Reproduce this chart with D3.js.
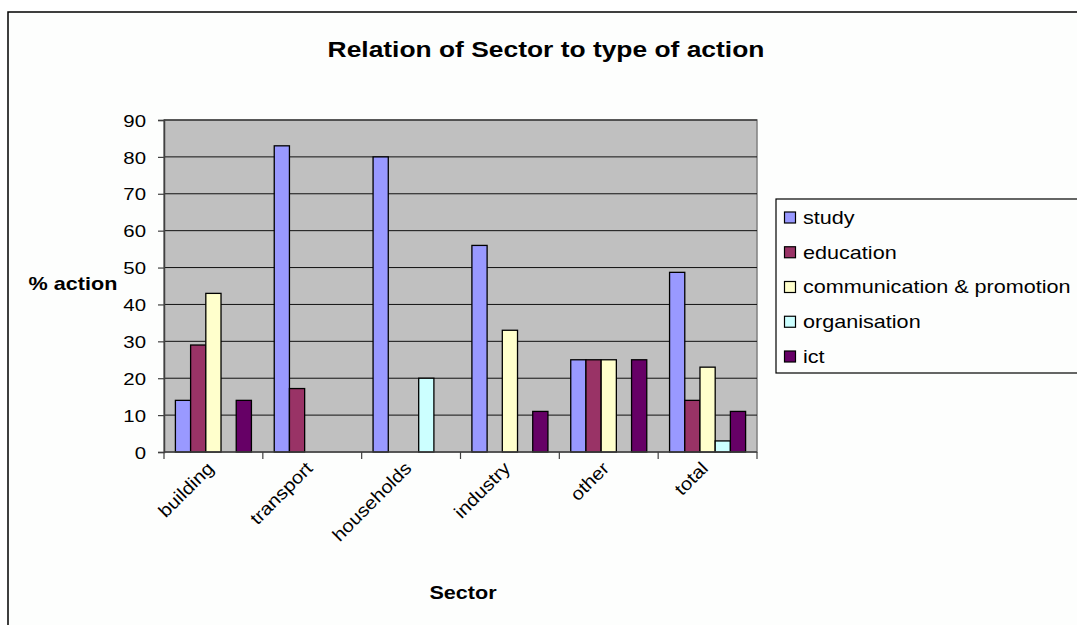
<!DOCTYPE html>
<html>
<head>
<meta charset="utf-8">
<script src="https://cdn.jsdelivr.net/npm/d3@7"></script>
<style>
  html, body { margin: 0; padding: 0; background: #ffffff; }
  svg { display: block; font-family: "Liberation Sans", Arial, sans-serif; }
</style>
</head>
<body>
<svg id="chart" width="1077" height="625"></svg>
<script>
// ---- data ----
const categories = ["building", "transport", "households", "industry", "other", "total"];
const seriesNames = ["study", "education", "communication & promotion", "organisation", "ict"];
const study = [14, 83, 80, 56, 25, 48.7];
const education = [29, 17.2, 0, 0, 25, 14];
const communication = [43, 0, 0, 33, 25, 23];
const organisation = [0, 0, 20, 0, 0, 3];
const ict = [14, 0, 0, 11, 25, 11];
const yTicks = [0, 10, 20, 30, 40, 50, 60, 70, 80, 90];
const colors = ["#9999ff", "#993366", "#ffffcc", "#ccffff", "#660066"];
const title = "Relation of Sector to type of action";
const yTitle = "% action";
const xTitle = "Sector";

const seriesValues = [study, education, communication, organisation, ict];

// ---- layout ----
const SX = 1.2; // horizontal text stretch of the original
const plot = { left: 164, right: 757, top: 120, bottom: 452 };
const svg = d3.select("#chart");

// outer chart border (only top & left visible)
svg.append("rect")
  .attr("x", 8).attr("y", 12)
  .attr("width", 1200).attr("height", 800)
  .attr("fill", "#fdfefd").attr("stroke", "#000").attr("stroke-width", 1.5);

const x = d3.scaleBand().domain(categories).range([plot.left, plot.right]).padding(0);
const xs = d3.scaleBand().domain(seriesNames).range([0, x.bandwidth()]).paddingInner(0).paddingOuter(0.75);
const y = d3.scaleLinear().domain([0, 90]).range([plot.bottom, plot.top]);

// plot background
svg.append("rect")
  .attr("x", plot.left).attr("y", plot.top)
  .attr("width", plot.right - plot.left).attr("height", plot.bottom - plot.top)
  .attr("fill", "#c0c0c0").attr("stroke", "#808080").attr("stroke-width", 1.5);

// gridlines
svg.append("g").selectAll("line").data(yTicks.filter(d => d > 0)).join("line")
  .attr("x1", plot.left).attr("x2", plot.right)
  .attr("y1", d => y(d)).attr("y2", d => y(d))
  .attr("stroke", "#111").attr("stroke-width", 1);

// bars
const barData = [];
seriesValues.forEach((vals, si) => {
  vals.forEach((v, ci) => {
    if (v > 0) barData.push({ cat: categories[ci], s: seriesNames[si], v: v, color: colors[si] });
  });
});
svg.append("g").selectAll("rect").data(barData).join("rect")
  .attr("x", d => x(d.cat) + xs(d.s))
  .attr("y", d => y(d.v))
  .attr("width", xs.bandwidth())
  .attr("height", d => y(0) - y(d.v))
  .attr("fill", d => d.color)
  .attr("stroke", "#000").attr("stroke-width", 1.3);

// y axis
const yAxis = svg.append("g")
  .attr("transform", `translate(${plot.left},0)`)
  .call(d3.axisLeft(y).tickValues(yTicks).tickSize(6).tickFormat(d3.format("d")));
yAxis.select(".domain").attr("stroke", "#404040").attr("stroke-width", 1.5);
yAxis.selectAll(".tick line").attr("stroke", "#404040").attr("stroke-width", 1.2);
yAxis.selectAll(".tick text").each(function () {
  const t = d3.select(this);
  t.attr("x", null).attr("dy", "0.36em")
   .attr("transform", `translate(-18,0) scale(${SX},1)`)
   .attr("font-size", 17).attr("fill", "#000")
   .attr("font-family", "Liberation Sans, Arial, sans-serif")
   .attr("text-anchor", "end");
});

// x axis
const xAxisG = svg.append("g").attr("transform", `translate(0,${plot.bottom})`);
xAxisG.append("line").attr("x1", plot.left).attr("x2", plot.right).attr("y1", 0).attr("y2", 0)
  .attr("stroke", "#404040").attr("stroke-width", 1.5);
const tickPositions = categories.map(c => x(c)).concat([x(categories[categories.length - 1]) + x.bandwidth()]);
xAxisG.selectAll("line.tk").data(tickPositions).join("line").attr("class", "tk")
  .attr("x1", d => d).attr("x2", d => d).attr("y1", 0).attr("y2", 7)
  .attr("stroke", "#404040").attr("stroke-width", 1.2);
xAxisG.selectAll("text.cl").data(categories).join("text").attr("class", "cl")
  .attr("transform", d => `translate(${x(d) + x.bandwidth() / 2 - 3},${13}) rotate(-45) scale(1.12,1)`)
  .attr("text-anchor", "end").attr("dy", "0.35em")
  .attr("font-size", 18).attr("fill", "#000")
  .text(d => d);

// titles
svg.append("text")
  .attr("transform", `translate(546,56.5) scale(${SX},1)`)
  .attr("text-anchor", "middle").attr("font-size", 22).attr("font-weight", "bold")
  .text(title);
svg.append("text")
  .attr("transform", `translate(73,290) scale(${SX},1)`)
  .attr("text-anchor", "middle").attr("font-size", 18).attr("font-weight", "bold")
  .text(yTitle);
svg.append("text")
  .attr("transform", `translate(463,599) scale(${SX},1)`)
  .attr("text-anchor", "middle").attr("font-size", 18).attr("font-weight", "bold")
  .text(xTitle);

// legend
const legend = svg.append("g");
legend.append("rect")
  .attr("x", 776).attr("y", 199).attr("width", 400).attr("height", 174)
  .attr("fill", "#fdfefd").attr("stroke", "#000").attr("stroke-width", 1.2);
const legendY = d3.scalePoint().domain(seriesNames).range([217.5, 356.5]);
const items = legend.selectAll("g.it").data(seriesNames).join("g").attr("class", "it")
  .attr("transform", d => `translate(0,${legendY(d)})`);
items.append("rect")
  .attr("x", 784.5).attr("y", -5.5).attr("width", 11).attr("height", 11)
  .attr("fill", (d, i) => colors[i]).attr("stroke", "#000").attr("stroke-width", 1.2);
items.append("text")
  .attr("transform", `translate(803,0) scale(${SX},1)`)
  .attr("dy", "0.35em").attr("font-size", 18).attr("fill", "#000")
  .text(d => d);
</script>
</body>
</html>
